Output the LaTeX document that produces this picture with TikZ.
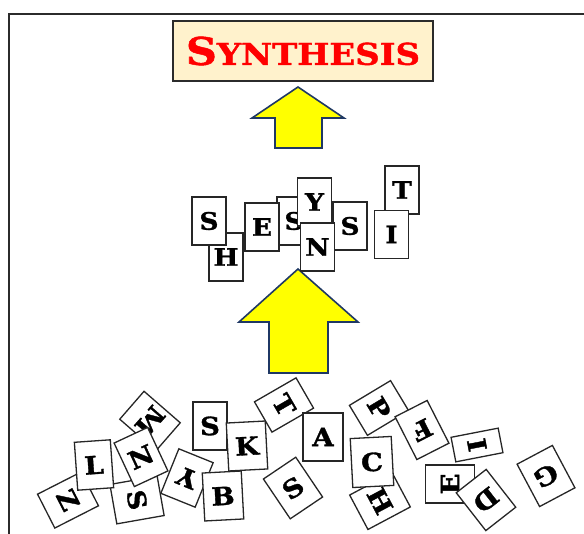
\documentclass[tikz,border=0pt]{standalone}
\usepackage{fontspec}
\newfontfamily\cardfont{DejaVu Serif}[BoldFeatures={FakeBold=1.3}]
\usepackage{graphicx}
\definecolor{framegray}{HTML}{2B2B2B}
\definecolor{titlefill}{HTML}{FFF2CC}
\definecolor{titlered}{HTML}{FF0000}
\definecolor{arrowfill}{HTML}{FFFF00}
\definecolor{arrowedge}{HTML}{1F3864}
\newcommand{\wideletter}[1]{\scalebox{1.1}[1]{#1}}
\tikzset{
  card/.style={draw=black!85, line width=1.3pt, fill=white,
    minimum width=34pt, minimum height=48pt, inner sep=0pt,
    font=\cardfont\bfseries\fontsize{25}{25}\selectfont},
  midcard/.style={card, font=\cardfont\bfseries\fontsize{24}{24}\selectfont},
  titlebox/.style={draw=framegray, line width=2pt, fill=titlefill,
    minimum width=260pt, minimum height=60pt, inner sep=0pt},
  blockarrow/.style={fill=arrowfill, draw=arrowedge, line width=1.6pt, line join=miter}
}
\begin{document}
\begin{tikzpicture}[x=1pt, y=-1pt]
\useasboundingbox (0,0) rectangle (584,534);

% outer frame (top and left edges)
\draw[framegray, line width=1.3pt] (9,534) -- (9,14) -- (584,14);

% title
\node[titlebox] (title) at (303,51)
  {\scalebox{1.13}[1]{\cardfont\bfseries\color{titlered}%
   {\fontsize{38}{38}\selectfont S}{\fontsize{30}{30}\selectfont YNTHESIS}}};

% upper block arrow
\coordinate (up1) at (298,87);
\draw[blockarrow] (up1) -- (344,118) -- (322,118) -- (322,148)
  -- (275,148) -- (275,118) -- (252,118) -- cycle;

% lower block arrow
\coordinate (up2) at (298,269);
\draw[blockarrow] (up2) -- (358,322) -- (328,322) -- (328,373)
  -- (269,373) -- (269,322) -- (239,322) -- cycle;

% letters being assembled
\node[midcard] (mH)  at (226,257)   {\wideletter{H}};
\node[midcard] (mS1) at (209,221)   {\wideletter{S}};
\node[midcard] (mS2) at (294,221)   {\wideletter{S}};
\node[midcard] (mE)  at (262,227)   {\wideletter{E}};
\node[midcard] (mY)  at (314.5,202) {\wideletter{Y}};
\node[midcard] (mS3) at (350,226)   {\wideletter{S}};
\node[midcard] (mN)  at (317.5,247) {\wideletter{N}};
\node[midcard] (mT)  at (402,190)   {\wideletter{T}};
\node[midcard] (mI)  at (391.5,234.5) {\wideletter{I}};

% scattered letters
\node[card, minimum width=38pt, minimum height=49pt, rotate=-63]  (bZ)  at (68,500)  {\wideletter{Z}};
\node[card, minimum width=37pt, rotate=-131] (bM)  at (150,421) {\wideletter{M}};
\node[card, minimum width=40pt, rotate=-80]  (bS1) at (137,500) {\wideletter{S}};
\node[card, minimum width=36pt, rotate=4]    (bL)  at (94,465)  {\wideletter{L}};
\node[card, minimum width=37pt, rotate=25]   (bN)  at (141,457) {\wideletter{N}};
\node[card, minimum width=37pt, rotate=158]  (bY)  at (187,478) {\wideletter{Y}};
\node[card, minimum width=39pt, rotate=3]    (bB)  at (223,496) {\wideletter{B}};
\node[card, rotate=0]                        (bS2) at (210,426) {\wideletter{S}};
\node[card, minimum width=39pt, rotate=3]    (bK)  at (247,446) {\wideletter{K}};
\node[card, minimum width=35pt, rotate=-60]  (bT)  at (284,405) {\wideletter{T}};
\node[card, minimum width=40pt, rotate=0]    (bA)  at (323,437) {\wideletter{A}};
\node[card, minimum width=39pt, rotate=34]   (bS3) at (293,488) {\wideletter{S}};
\node[card, minimum width=35pt, rotate=-59]  (bP)  at (379,408) {\wideletter{P}};
\node[card, minimum width=39pt, rotate=-62]  (bH)  at (380,501) {\wideletter{H}};
\node[card, minimum width=41pt, minimum height=49pt, rotate=3] (bC) at (372,462) {\wideletter{C}};
\node[card, minimum width=36pt, rotate=-153] (bF)  at (422,430) {\wideletter{F}};
\node[card, minimum width=25pt, rotate=101]  (bI)  at (477,445) {\wideletter{I}};
\node[card, minimum width=38pt, minimum height=49pt, rotate=90] (bE) at (450,484) {\wideletter{E}};
\node[card, minimum width=38pt, rotate=-142] (bD)  at (486,500) {\wideletter{D}};
\node[card, minimum width=40pt, rotate=-152] (bG)  at (546,476) {\wideletter{G}};
\end{tikzpicture}
\end{document}
